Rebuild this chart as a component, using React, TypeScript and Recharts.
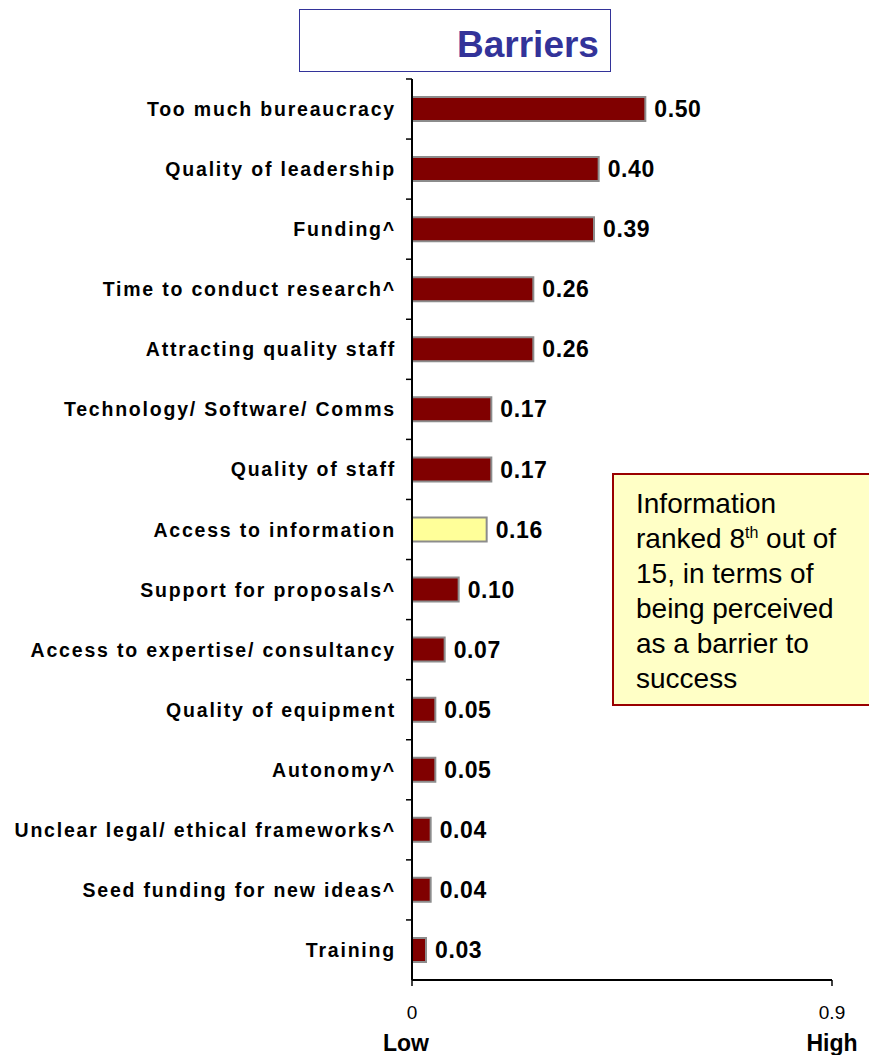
import { Bar, BarChart, Cell, LabelList, XAxis, YAxis } from "recharts";

const categories = [
  "Too much bureaucracy",
  "Quality of leadership",
  "Funding^",
  "Time to conduct research^",
  "Attracting quality staff",
  "Technology/ Software/ Comms",
  "Quality of staff",
  "Access to information",
  "Support for proposals^",
  "Access to expertise/ consultancy",
  "Quality of equipment",
  "Autonomy^",
  "Unclear legal/ ethical frameworks^",
  "Seed funding for new ideas^",
  "Training",
];
const values = [0.5, 0.4, 0.39, 0.26, 0.26, 0.17, 0.17, 0.16, 0.1, 0.07, 0.05, 0.05, 0.04, 0.04, 0.03];
const highlighted = "Access to information";
const xTicks = [0, 0.9];
const xWords = ["Low", "High"];
const title = "Barriers";
const noteLines = [
  "Information",
  "ranked 8|th| out of",
  "15, in terms of",
  "being perceived",
  "as a barrier to",
  "success",
];

const FONT = '"Liberation Sans", Arial, Helvetica, sans-serif';
const BAR = "#800000";
const HIGHLIGHT = "#FFFF99";

const data = categories.map((name, i) => ({ name, value: values[i] }));

function CategoryTick(props: any) {
  const { x, y, payload } = props;
  const half = payload.offset ?? 30;
  return (
    <g>
      <line x1={x + 10} x2={x + 16} y1={y - half} y2={y - half} stroke="#000" strokeWidth={1.5} />
      <text
        x={x}
        y={y}
        dy={7}
        textAnchor="end"
        fontFamily={FONT}
        fontWeight="bold"
        fontSize={19.5}
        letterSpacing={1.8}
        fill="#000"
      >
        {payload.value}
      </text>
    </g>
  );
}

function ValueTick(props: any) {
  const { x, y, payload, index } = props;
  return (
    <g>
      <text x={x} y={y} dy={33} textAnchor="middle" fontFamily={FONT} fontSize={19} fill="#000">
        {payload.value}
      </text>
      <text
        x={x}
        y={y}
        dy={65}
        dx={index === 0 ? -6 : 0}
        textAnchor="middle"
        fontFamily={FONT}
        fontWeight="bold"
        fontSize={23}
        fill="#000"
      >
        {xWords[index]}
      </text>
    </g>
  );
}

export default function App() {
  return (
    <div
      style={{
        position: "absolute",
        left: 0,
        top: 0,
        width: 869,
        height: 1055,
        overflow: "hidden",
        background: "#fff",
        fontFamily: FONT,
      }}
    >
      <BarChart
        width={869}
        height={1055}
        data={data}
        layout="vertical"
        margin={{ top: 79, right: 37, bottom: 0, left: 0 }}
      >
        <XAxis
          type="number"
          domain={[0, 0.9]}
          ticks={xTicks}
          height={75}
          tickSize={6}
          tickMargin={0}
          tick={<ValueTick />}
          axisLine={{ stroke: "#000", strokeWidth: 2 }}
          tickLine={{ stroke: "#000", strokeWidth: 1.5 }}
        />
        <YAxis
          type="category"
          dataKey="name"
          width={412}
          tickSize={6}
          tickMargin={10}
          tickLine={false}
          axisLine={{ stroke: "#000", strokeWidth: 2 }}
          tick={<CategoryTick />}
          interval={0}
        />
        <Bar dataKey="value" barSize={24} stroke="#8c8c8c" strokeWidth={2} isAnimationActive={false}>
          {data.map((d) => (
            <Cell key={d.name} fill={d.name === highlighted ? HIGHLIGHT : BAR} />
          ))}
          <LabelList
            dataKey="value"
            position="right"
            offset={9}
            formatter={(v: any) => Number(v).toFixed(2)}
            style={{ fontFamily: FONT, fontWeight: "bold", fontSize: 23, fill: "#000", letterSpacing: 0.6 }}
          />
        </Bar>
      </BarChart>

      <div
        style={{
          position: "absolute",
          left: 299,
          top: 9,
          width: 310,
          height: 61,
          border: "1.5px solid #333399",
          background: "#fff",
        }}
      >
        <div
          style={{
            position: "absolute",
            left: 157,
            top: 14,
            fontSize: 37,
            fontWeight: "bold",
            color: "#333399",
            lineHeight: "42px",
          }}
        >
          {title}
        </div>
      </div>

      <div
        style={{
          position: "absolute",
          left: 612,
          top: 473,
          width: 280,
          height: 233,
          border: "2px solid #990000",
          background: "#FFFFC6",
          boxSizing: "border-box",
          padding: "11px 0 0 22px",
          fontSize: 28,
          lineHeight: "35px",
          color: "#000",
        }}
      >
        {noteLines.map((line) => {
          const parts = line.split("|");
          return (
            <div key={line} style={{ whiteSpace: "nowrap" }}>
              {parts[0]}
              {parts[1] ? <sup style={{ fontSize: 16, lineHeight: 0 }}>{parts[1]}</sup> : null}
              {parts[2] ?? null}
            </div>
          );
        })}
      </div>
    </div>
  );
}
